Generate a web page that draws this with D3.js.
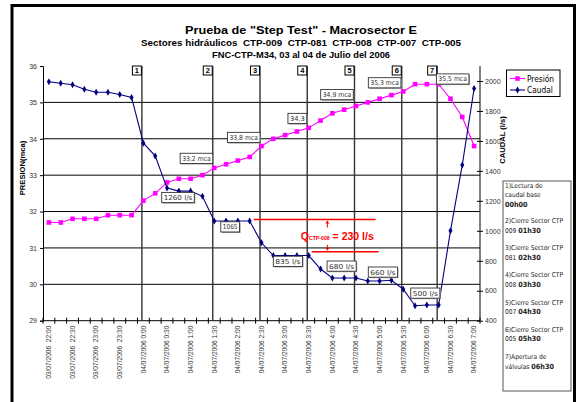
<!DOCTYPE html>
<meta charset="utf-8">
<style>
    body{ margin:0; background:#fff; }
    svg{ font-family:"Liberation Sans", Arial, sans-serif; display:block; }
    text{ white-space:pre; }
</style>
<svg width="578" height="402"></svg>
<script src="https://cdn.jsdelivr.net/npm/d3@7/dist/d3.min.js"></script>
<script>
    // ---- data ----
    var categories=["03/07/2006  22:00","03/07/2006  22:15","03/07/2006  22:30","03/07/2006  22:45",
        "03/07/2006  23:00","03/07/2006  23:15","03/07/2006  23:30","03/07/2006  23:45",
        "04/07/2006 0:00","04/07/2006 0:15","04/07/2006 0:30","04/07/2006 0:45",
        "04/07/2006 1:00","04/07/2006 1:15","04/07/2006 1:30","04/07/2006 1:45",
        "04/07/2006 2:00","04/07/2006 2:15","04/07/2006 2:30","04/07/2006 2:45",
        "04/07/2006 3:00","04/07/2006 3:15","04/07/2006 3:30","04/07/2006 3:45",
        "04/07/2006 4:00","04/07/2006 4:15","04/07/2006 4:30","04/07/2006 4:45",
        "04/07/2006 5:00","04/07/2006 5:15","04/07/2006 5:30","04/07/2006 5:45",
        "04/07/2006 6:00","04/07/2006 6:15","04/07/2006 6:30","04/07/2006 6:45",
        "04/07/2006 7:00"];
    var presion=[31.7,31.7,31.8,31.8,31.8,31.9,31.9,31.9,32.3,32.5,32.8,32.9,32.9,33.0,33.2,33.3,
        33.4,33.5,33.8,34.0,34.1,34.2,34.3,34.5,34.7,34.8,34.9,35.0,35.1,35.2,35.3,35.5,35.5,35.5,
        35.1,34.6,33.8];
    var caudal=[1995,1985,1975,1945,1925,1925,1910,1890,1585,1500,1285,1265,1265,1230,1065,1065,
        1065,1065,920,835,835,835,835,745,685,685,685,665,665,670,610,500,505,505,1000,1440,1950];
    var leftTicks=[29,30,31,32,33,34,35,36];
    var rightTicks=[400,600,800,1000,1200,1400,1600,1800,2000];
    var eventIdx=[8,14,18,22,26,30,33];
    var eventNames=["1","2","3","4","5","6","7"];
    var presLabels=[{i:14,t:"33,2 mca"},{i:18,t:"33,8 mca"},{i:22,t:"34,3"},{i:26,t:"34,9 mca"},
        {i:30,t:"35,3 mca"},{i:33,t:"35,5 mca"}];
    var caudLabels=[{i:10,t:"1260 l/s"},{i:15,t:"1065"},{i:19,t:"835 l/s"},{i:24,t:"680 l/s"},
        {i:28,t:"660 l/s"},{i:31,t:"500 l/s"}];
    var diffTop=1075, diffBottom=860, diffText="230";
    var notes=[["1)Lectura de","caudal base",["","00h00"]],
        ["2)Cierre Sector CTP",["009 ","01h30"]],
        ["3)Cierre Sector CTP",["081 ","02h30"]],
        ["4)Cierre Sector CTP",["008 ","03h30"]],
        ["5)Cierre Sector CTP",["007 ","04h30"]],
        ["6)Cierre Sector CTP",["005 ","05h30"]],
        ["7)Apertura de",["válvulas ","06h30"]]];

    // ---- layout ----
    var svg=d3.select("svg");
    var L=43,R=480,T=66,B=320.7;

    var x=d3.scaleBand().domain(d3.range(categories.length)).range([L,R]);
    var cx=function(i){ return x(i)+x.bandwidth()/2; };
    var yL=d3.scaleLinear().domain([29,36]).range([B,T]);
    var yR=d3.scaleLinear().domain([400,2100]).range([B,T]);

    // outer frame
    svg.append("rect").attr("x",12).attr("y",5.5).attr("width",562.5).attr("height",410)
        .attr("fill","none").attr("stroke","#000").attr("stroke-width",3);

    // titles
    var titles=[
        {t:"Prueba de \"Step Test\" - Macrosector E",y:33.5,s:11.5,w:232},
        {t:"Sectores hidráulicos  CTP-009  CTP-081  CTP-008  CTP-007  CTP-005",y:46,s:8.3,w:320},
        {t:"FNC-CTP-M34, 03 al 04 de Julio del 2006",y:57.5,s:8.3,w:178}];
    svg.selectAll("text.title").data(titles).enter().append("text")
        .attr("class","title")
        .attr("x",301).attr("y",function(d){return d.y;})
        .attr("text-anchor","middle").attr("font-weight","bold")
        .attr("font-size",function(d){return d.s;})
        .attr("textLength",function(d){return d.w;}).attr("lengthAdjust","spacingAndGlyphs")
        .text(function(d){return d.t;});

    // horizontal gridlines (left axis)
    svg.append("g").selectAll("line").data(leftTicks.slice(1,-1)).enter().append("line")
        .attr("x1",L).attr("x2",R).attr("y1",function(d){return yL(d);}).attr("y2",function(d){return yL(d);})
        .attr("stroke","#000").attr("stroke-width",1);

    // left axis
    var gl=svg.append("g").attr("transform","translate("+L+",0)")
        .call(d3.axisLeft(yL).tickValues(leftTicks).tickSize(3).tickPadding(3).tickFormat(d3.format("d")));
    gl.select(".domain").attr("stroke","#000");
    gl.selectAll("text").attr("font-size",7).attr("fill","#333").attr("font-family","Liberation Sans");

    // right axis
    var gr=svg.append("g").attr("transform","translate("+R+",0)")
        .call(d3.axisRight(yR).tickValues(rightTicks).tickSize(3).tickPadding(2).tickFormat(d3.format("d")));
    gr.select(".domain").attr("stroke","#000").attr("d","M0,"+T+"V"+B);
    gr.selectAll(".tick line").attr("x1",-3);
    gr.selectAll("text").attr("font-size",7).attr("fill","#333").attr("font-family","Liberation Sans");

    // x axis
    var gx=svg.append("g");
    gx.append("line").attr("x1",L).attr("x2",R).attr("y1",B).attr("y2",B).attr("stroke","#000");
    gx.selectAll("line.tk").data(d3.range(categories.length+1)).enter().append("line")
        .attr("class","tk")
        .attr("x1",function(i){return L+i*x.step();}).attr("x2",function(i){return L+i*x.step();})
        .attr("y1",B-3).attr("y2",B+3).attr("stroke","#000");
    gx.selectAll("text").data(d3.range(0,categories.length,2)).enter().append("text")
        .attr("transform",function(i){return "translate("+(cx(i)+2.3)+","+(B+5)+") rotate(-90)";})
        .attr("text-anchor","end").attr("font-size",6.6).attr("fill","#333")
        .text(function(i){return categories[i];});

    // axis titles
    svg.append("text").attr("transform","translate(25,168) rotate(-90)")
        .attr("text-anchor","middle").attr("font-weight","bold").attr("font-size",7.6)
        .text("PRESION(mca)");
    svg.append("text").attr("transform","translate(505,140) rotate(-90)")
        .attr("text-anchor","middle").attr("font-weight","bold").attr("font-size",7.6)
        .text("CAUDAL (l/s)");

    // event lines with numbered boxes
    var ev=svg.append("g").selectAll("g").data(eventIdx).enter().append("g");
    ev.append("line")
        .attr("x1",function(i){return cx(i)-1.5;}).attr("x2",function(i){return cx(i)-1.5;})
        .attr("y1",T).attr("y2",B).attr("stroke","#333").attr("stroke-width",1.4);
    ev.append("rect")
        .attr("x",function(i){return cx(i)-11;}).attr("y",T).attr("width",9).attr("height",9)
        .attr("fill","#fff").attr("stroke","#000").attr("stroke-width",1);
    ev.append("text")
        .attr("x",function(i){return cx(i)-6.5;}).attr("y",T+7.3)
        .attr("text-anchor","middle").attr("font-weight","bold").attr("font-size",7.5)
        .text(function(d,k){return eventNames[k];});

    // lines and markers
    var lineP=d3.line().x(function(d,i){return cx(i);}).y(function(d){return yL(d);});
    var lineC=d3.line().x(function(d,i){return cx(i);}).y(function(d){return yR(d);});

    svg.append("path").datum(presion).attr("d",lineP).attr("fill","none").attr("stroke","#ff00ff").attr("stroke-width",1.1);
    svg.append("g").selectAll("rect").data(presion).enter().append("rect")
        .attr("x",function(d,i){return cx(i)-2.3;}).attr("y",function(d){return yL(d)-2.3;})
        .attr("width",4.6).attr("height",4.6).attr("fill","#ff00ff");

    svg.append("path").datum(caudal).attr("d",lineC).attr("fill","none").attr("stroke","#000080").attr("stroke-width",1.1);
    svg.append("g").selectAll("path").data(caudal).enter().append("path")
        .attr("d",d3.symbol().type(d3.symbolDiamond).size(14))
        .attr("transform",function(d,i){return "translate("+cx(i)+","+yR(d)+")";})
        .attr("fill","#000080");

    // value labels (boxes)
    function boxLabel(g,px,py,txt,anchor){
        var w=txt.length*3.45+5, h=10.2;
        var bx=anchor=="right"?px-w:px, by=py;
        g.append("rect").attr("x",bx+1).attr("y",by+1).attr("width",w).attr("height",h).attr("fill","#999");
        g.append("rect").attr("x",bx).attr("y",by).attr("width",w).attr("height",h)
            .attr("fill","#fff").attr("stroke","#333").attr("stroke-width",0.9);
        g.append("text").attr("x",bx+2).attr("y",by+7.6).attr("font-size",6.8).attr("fill","#333")
            .attr("font-family","DejaVu Sans Condensed, DejaVu Sans").attr("textLength",w-4).attr("lengthAdjust","spacingAndGlyphs")
            .text(txt);
    }
    var presOff=[[-1.5,-14.6],[-1.5,-13.7],[-2,-14.5],[-2.7,-16.5],[-2.3,-13.8],[-2.3,-10.3]];
    var presAnchor=["right","right","right","right","right","left"];
    var labG=svg.append("g");
    presLabels.forEach(function(d,k){
        boxLabel(labG,cx(d.i)+presOff[k][0],yL(presion[d.i])+presOff[k][1],d.t,presAnchor[k]);
    });
    var caudOff=[[-5.3,4.3],[-5.3,0.7],[0,0.7],[-5.3,-17],[-11.3,-14],[-4.3,-17.7]];
    caudLabels.forEach(function(d,k){
        boxLabel(labG,cx(d.i)+caudOff[k][0],yR(caudal[d.i])+caudOff[k][1],d.t,"left");
    });

    // flow difference annotation
    var red="#ff0000";
    var an=svg.append("g");
    an.append("line").attr("x1",cx(17)+4).attr("x2",cx(28)-4).attr("y1",yR(diffTop)).attr("y2",yR(diffTop))
        .attr("stroke",red).attr("stroke-width",1.5);
    an.append("line").attr("x1",cx(22)+3).attr("x2",cx(28)-1).attr("y1",yR(diffBottom)).attr("y2",yR(diffBottom))
        .attr("stroke",red).attr("stroke-width",1.5);
    var ax=cx(24)-5;
    an.append("line").attr("x1",ax).attr("x2",ax).attr("y1",yR(diffTop)+3).attr("y2",yR(diffTop)+8).attr("stroke",red);
    an.append("path").attr("d","M"+(ax-2)+","+(yR(diffTop)+4)+"L"+ax+","+(yR(diffTop)+1)+"L"+(ax+2)+","+(yR(diffTop)+4)+"Z").attr("fill",red);
    an.append("line").attr("x1",ax).attr("x2",ax).attr("y1",yR(diffBottom)-7).attr("y2",yR(diffBottom)-3).attr("stroke",red);
    an.append("path").attr("d","M"+(ax-2)+","+(yR(diffBottom)-4)+"L"+ax+","+(yR(diffBottom)-1)+"L"+(ax+2)+","+(yR(diffBottom)-4)+"Z").attr("fill",red);
    var qt=an.append("text").attr("x",cx(22)-8).attr("y",(yR(diffTop)+yR(diffBottom))/2+4)
        .attr("fill",red).attr("font-weight","bold").attr("font-size",10.5);
    qt.append("tspan").text("Q");
    qt.append("tspan").attr("font-size",5.2).text("CTP-008");
    qt.append("tspan").text(" = "+diffText+" l/s");

    // legend
    var lg=svg.append("g");
    lg.append("rect").attr("x",506.5).attr("y",70).attr("width",53.5).attr("height",26.5)
        .attr("fill","#fff").attr("stroke","#000").attr("stroke-width",1);
    var legItems=[{n:"Presión",c:"#ff00ff",m:"sq"},{n:"Caudal",c:"#000080",m:"di"}];
    legItems.forEach(function(d,k){
        var yy=78.5+k*11.5;
        lg.append("line").attr("x1",510).attr("x2",525).attr("y1",yy).attr("y2",yy).attr("stroke",d.c).attr("stroke-width",1.1);
        if(d.m=="sq") lg.append("rect").attr("x",515.2).attr("y",yy-2.3).attr("width",4.6).attr("height",4.6).attr("fill",d.c);
        else lg.append("path").attr("d",d3.symbol().type(d3.symbolDiamond).size(14)).attr("transform","translate(517.5,"+yy+")").attr("fill",d.c);
        lg.append("text").attr("x",527).attr("y",yy+3).attr("font-size",8.3)
            .attr("font-family","DejaVu Sans Condensed, DejaVu Sans").text(d.n);
    });

    // events note box
    var nb=svg.append("g");
    nb.append("rect").attr("x",503).attr("y",181).attr("width",68).attr("height",210)
        .attr("fill","#fff").attr("stroke","#555").attr("stroke-width",1);
    notes.forEach(function(grp,k){
        var y0=k==0?187.5:223+(k-1)*27.2;
        grp.forEach(function(line,j){
            var t=nb.append("text").attr("x",505).attr("y",y0+j*9.5).attr("font-size",6.6).attr("fill","#222")
                .attr("font-family","DejaVu Sans Condensed, DejaVu Sans");
            if(typeof line=="string") t.text(line);
            else{
                t.append("tspan").text(line[0]);
                t.append("tspan").attr("font-weight","bold").attr("font-size",7.2).text(line[1]);
            }
        });
    });
</script>
